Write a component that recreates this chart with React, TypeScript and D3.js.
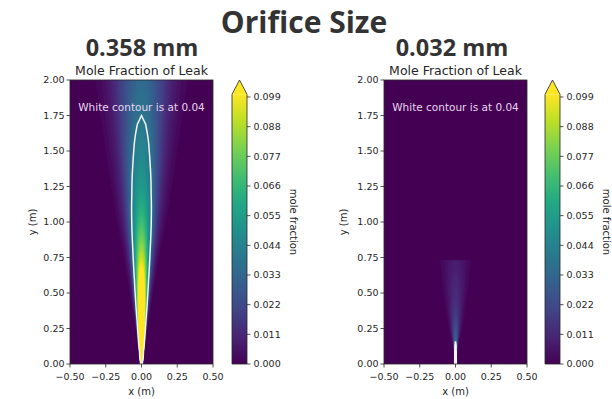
import React, { useMemo } from 'react'
import * as d3 from 'd3'

// axis ticks
const X_TICKS = [-0.5, -0.25, 0, 0.25, 0.5]
const Y_TICKS = [0, 0.25, 0.5, 0.75, 1, 1.25, 1.5, 1.75, 2]
const CBAR_TICKS = [0, 0.011, 0.022, 0.033, 0.044, 0.055, 0.066, 0.077, 0.088, 0.099]
const V_MAX = 0.1
const CONTOUR_LEVEL = 0.04

// lateral shape of the plume: fraction of centreline value vs distance (in spread units)
const PROFILE_OFFSETS = [0, 0.25, 0.5, 0.75, 1, 1.25, 1.5, 1.75, 2, 2.25, 2.5, 2.75, 3, 3.25, 3.5]
const PROFILE_VALUES = [1, 0.97, 0.88, 0.755, 0.61, 0.46, 0.32, 0.21, 0.135, 0.08, 0.044, 0.022, 0.011, 0.005, 0]

// 0.358 mm orifice: centreline mole fraction and plume spread (m) by height (m)
const bigHeights = [0, 0.1, 0.2, 0.3, 0.4, 0.5, 0.6, 0.7, 0.8, 0.9, 1.0, 1.1, 1.2, 1.3, 1.4, 1.5, 1.6, 1.7, 1.8, 1.9, 2.0]
const bigCentre = [0.9, 0.7, 0.35, 0.233, 0.175, 0.14, 0.117, 0.1, 0.0875, 0.078, 0.07, 0.064, 0.058, 0.054, 0.05, 0.0467, 0.044, 0.041, 0.039, 0.037, 0.035]
const bigSpread = [0.002, 0.006, 0.011, 0.016, 0.022, 0.028, 0.034, 0.041, 0.048, 0.056, 0.064, 0.071, 0.078, 0.085, 0.092, 0.099, 0.106, 0.113, 0.12, 0.127, 0.134]

// 0.032 mm orifice (solution domain ends at 0.73 m)
const smallHeights = [0, 0.05, 0.1, 0.15, 0.2, 0.25, 0.3, 0.35, 0.4, 0.45, 0.5, 0.55, 0.6, 0.65, 0.7, 0.73]
const smallCentre = [0.25, 0.128, 0.064, 0.042, 0.032, 0.026, 0.021, 0.018, 0.016, 0.014, 0.013, 0.012, 0.011, 0.01, 0.009, 0.009]
const smallSpread = [0.0015, 0.003, 0.005, 0.009, 0.015, 0.02, 0.025, 0.03, 0.034, 0.038, 0.043, 0.047, 0.051, 0.055, 0.06, 0.062]

const panels = [
  { title: '0.358 mm', heights: bigHeights, centre: bigCentre, spread: bigSpread, left: 70, cbar: 232, titleX: 142, yLabelX: 32 },
  { title: '0.032 mm', heights: smallHeights, centre: smallCentre, spread: smallSpread, left: 384, cbar: 545, titleX: 452, yLabelX: 343 },
]

const TOP = 80
const PW = 143
const PH = 284
const CBW = 15
const FONT = 'DejaVu Sans, sans-serif'
const INK = '#262626'

const color = (v: number) => d3.interpolateViridis(Math.max(0, Math.min(1, v / V_MAX)))
const levels = d3.range(0, V_MAX + 0.0001, 0.002)

const Panel = ({ p, idx }: any) => {
  const xScale = d3.scaleLinear().domain([-0.5, 0.5]).range([0, PW])
  const yScale = d3.scaleLinear().domain([0, 2]).range([PH, 0])
  const cScale = d3.scaleLinear().domain([0, V_MAX]).range([TOP + PH, TOP + PH - 269.7])

  const { bands, line } = useMemo(() => {
    const cl = d3.scaleLinear().domain(p.heights).range(p.centre).clamp(true)
    const sp = d3.scaleLinear().domain(p.heights).range(p.spread).clamp(true)
    const prof = d3.scaleLinear().domain(PROFILE_OFFSETS).range(PROFILE_VALUES).clamp(true)
    const top = p.heights[p.heights.length - 1]
    const values = new Float64Array(PW * PH)
    for (let j = 0; j < PH; j++) {
      const y = yScale.invert(j + 0.5)
      for (let i = 0; i < PW; i++) {
        const x = xScale.invert(i + 0.5)
        values[j * PW + i] = y > top ? 0 : cl(y) * prof(Math.abs(x) / sp(y))
      }
    }
    const gen = d3.contours().size([PW, PH])
    return {
      bands: gen.thresholds(levels)(values as any),
      line: gen.thresholds([CONTOUR_LEVEL])(values as any)[0],
    }
  }, [p])

  const path = d3.geoPath()
  const cTop = cScale(V_MAX)
  const gid = `cbar${idx}`
  const cx0 = p.cbar
  const cx1 = p.cbar + CBW

  return (
    <g>
      <text x={p.titleX} y={56} textAnchor='middle' fontFamily='Open Sans, sans-serif' fontWeight='bold' fontSize={23.5} fill='#333'>
        {p.title}
      </text>
      <text x={p.left + PW / 2} y={74.5} textAnchor='middle' fontFamily={FONT} fontSize={12.5} fill={INK}>
        Mole Fraction of Leak
      </text>

      <g transform={`translate(${p.left},${TOP})`}>
        <clipPath id={`clip${idx}`}>
          <rect width={PW} height={PH} />
        </clipPath>
        <g clipPath={`url(#clip${idx})`}>
          <rect width={PW} height={PH} fill={color(0)} />
          {bands.map((b: any, k: number) => (
            <path key={k} d={path(b) || ''} fill={color(b.value)} />
          ))}
          <path d={path(line) || ''} fill='none' stroke='#f4f4f4' strokeWidth={1.5} />
          <text x={xScale(0)} y={yScale(1.78)} textAnchor='middle' fontFamily={FONT} fontSize={10.5} fill='#e6d6ee'>
            White contour is at 0.04
          </text>
        </g>
        <rect width={PW} height={PH} fill='none' stroke={INK} strokeWidth={0.8} />

        {X_TICKS.map((t) => (
          <g key={t} transform={`translate(${xScale(t)},${PH})`}>
            <line y2={3.5} stroke={INK} strokeWidth={0.8} />
            <text y={16} textAnchor='middle' fontFamily={FONT} fontSize={9.5} fill={INK}>
              {d3.format('.2f')(t).replace('-', '\u2212')}
            </text>
          </g>
        ))}
        {Y_TICKS.map((t) => (
          <g key={t} transform={`translate(0,${yScale(t)})`}>
            <line x2={-3.5} stroke={INK} strokeWidth={0.8} />
            <text x={-5.5} dy='0.35em' textAnchor='end' fontFamily={FONT} fontSize={9.5} fill={INK}>
              {d3.format('.2f')(t)}
            </text>
          </g>
        ))}
        <text x={PW / 2} y={PH + 31} textAnchor='middle' fontFamily={FONT} fontSize={10} fill={INK}>
          x (m)
        </text>
      </g>
      <text
        transform={`translate(${p.yLabelX},${TOP + PH / 2}) rotate(-90)`}
        textAnchor='middle'
        dy='0.35em'
        fontFamily={FONT}
        fontSize={10}
        fill={INK}
      >
        y (m)
      </text>

      {/* colour bar */}
      <defs>
        <linearGradient id={gid} x1='0' y1='1' x2='0' y2='0'>
          {d3.range(0, 1.0001, 0.1).map((s) => (
            <stop key={s} offset={s} stopColor={d3.interpolateViridis(s)} />
          ))}
        </linearGradient>
      </defs>
      <rect x={cx0} y={cTop} width={CBW} height={TOP + PH - cTop} fill={`url(#${gid})`} />
      <path d={`M${cx0},${cTop}L${(cx0 + cx1) / 2},${TOP}L${cx1},${cTop}Z`} fill={color(V_MAX)} />
      <path
        d={`M${cx0},${TOP + PH}L${cx0},${cTop}L${(cx0 + cx1) / 2},${TOP}L${cx1},${cTop}L${cx1},${TOP + PH}Z`}
        fill='none'
        stroke={INK}
        strokeWidth={0.8}
      />
      {CBAR_TICKS.map((t) => (
        <g key={t} transform={`translate(${cx1},${cScale(t)})`}>
          <line x2={3.5} stroke={INK} strokeWidth={0.8} />
          <text x={6.5} dy='0.35em' fontFamily={FONT} fontSize={9.5} fill={INK}>
            {d3.format('.3f')(t)}
          </text>
        </g>
      ))}
      <text
        transform={`translate(${cx1 + 46},${TOP + PH / 2}) rotate(90)`}
        textAnchor='middle'
        dy='0.35em'
        fontFamily={FONT}
        fontSize={10}
        fill={INK}
      >
        mole fraction
      </text>
    </g>
  )
}

export default function App() {
  return (
    <svg width={612} height={399} style={{ position: 'absolute', left: 0, top: 0, background: '#fff' }}>
      <text x={304} y={33} textAnchor='middle' fontFamily='Open Sans, sans-serif' fontWeight='bold' fontSize={30} fill='#333'>
        Orifice Size
      </text>
      {panels.map((p, i) => (
        <Panel key={p.title} p={p} idx={i} />
      ))}
    </svg>
  )
}
